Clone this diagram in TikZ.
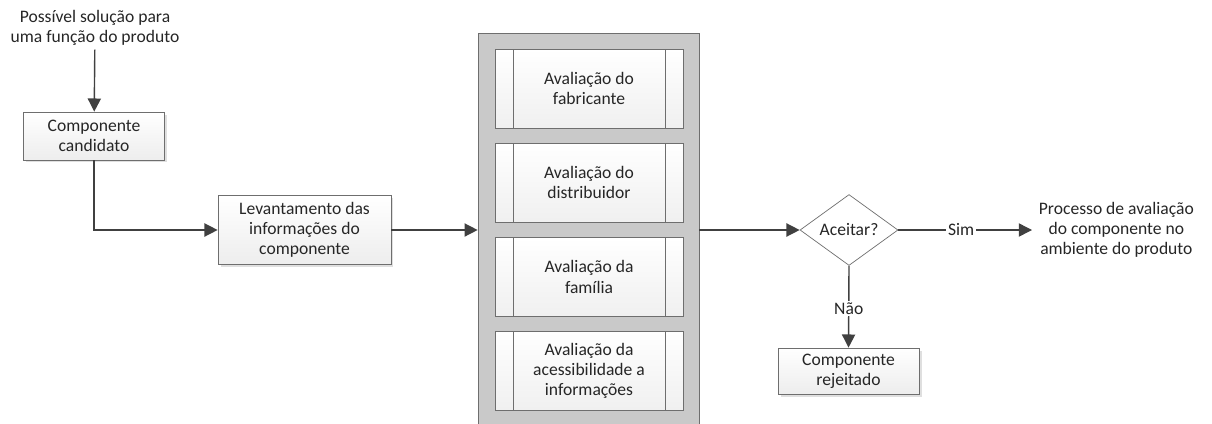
\documentclass[tikz,border=0pt]{standalone}
\usepackage{fontspec}
\setmainfont{Carlito}
\usetikzlibrary{shapes.geometric, arrows.meta, positioning, shadows}
\definecolor{linha}{HTML}{404040}
\definecolor{borda}{HTML}{6E6E6E}
\definecolor{cinza}{HTML}{C9C9C9}
\definecolor{letra}{HTML}{262626}
\tikzstyle{etapa} = [rectangle, draw=borda, top color=white, bottom color=black!7, minimum height=0.96cm, minimum width=2.82cm, text centered, align=center, inner sep=2pt, drop shadow={shadow xshift=0.05cm, shadow yshift=-0.05cm, opacity=0.25}]
\tikzstyle{subproc} = [rectangle, draw=borda, top color=white, bottom color=black!6, minimum height=1.58cm, minimum width=3.76cm, text centered, align=center, inner sep=2pt,
  path picture={\draw[borda] ([xshift=0.36cm]path picture bounding box.north west) -- ([xshift=0.36cm]path picture bounding box.south west);
                \draw[borda] ([xshift=-0.36cm]path picture bounding box.north east) -- ([xshift=-0.36cm]path picture bounding box.south east);}]
\tikzstyle{decisao} = [diamond, draw=borda, fill=white, minimum width=1.96cm, minimum height=1.34cm, inner sep=0pt, align=center]
\tikzstyle{texto} = [align=center, inner sep=2pt]
\tikzstyle{arrow} = [thick, draw=linha, -{Triangle[length=7.5pt, width=7.5pt]}]

\begin{document}
\begin{tikzpicture}[x=0.02cm, y=-0.02cm, font=\fontsize{10}{11.5}\selectfont, text=letra, node distance=1cm and 1cm]

\useasboundingbox (0,0) rectangle (1212,423);

% Entrada
\node[texto] (solucao) at (95,28) {Possível solução para\\uma função do produto};
\node[etapa] (candidato) at (94,136) {Componente\\candidato};
\node[etapa, minimum width=3.46cm, minimum height=1.38cm] (levantamento) at (304.5,230) {Levantamento das\\informações do\\componente};

% Grupo de avaliacoes
\node[rectangle, draw=borda, fill=cinza, minimum width=4.42cm, minimum height=7.92cm, inner sep=0pt] (grupo) at (588.5,231) {};
\node[subproc] (fabricante) at (589,88.5) {Avaliação do\\fabricante};
\node[subproc] (distribuidor) at (589,182.5) {Avaliação do\\distribuidor};
\node[subproc] (familia) at (589,277) {Avaliação da\\família};
\node[subproc] (acesso) at (589,371) {Avaliação da\\acessibilidade a\\informações};

% Decisao
\node[decisao] (aceitar) at (849,230) {Aceitar?};
\node[texto, anchor=west] (processo) at (1035,230) {Processo de avaliação\\do componente no\\ambiente do produto};
\node[etapa, minimum height=0.92cm] (rejeitado) at (848.5,371) {Componente\\rejeitado};

% Conexoes
\draw[arrow] (solucao) -- (candidato);
\draw[arrow] (candidato.south) |- (levantamento.west);
\draw[arrow] (levantamento.east) -- (levantamento.east -| grupo.west);
\draw[arrow] (grupo.east |- aceitar.west) -- (aceitar.west);
\draw[arrow] (aceitar.east) -- node[pos=0.47, fill=white, inner sep=1pt] {Sim} ([xshift=-0.06cm]processo.west);
\draw[arrow] (aceitar.south) -- node[pos=0.52, fill=white, inner sep=1pt] {Não} (rejeitado.north);

\end{tikzpicture}
\end{document}
